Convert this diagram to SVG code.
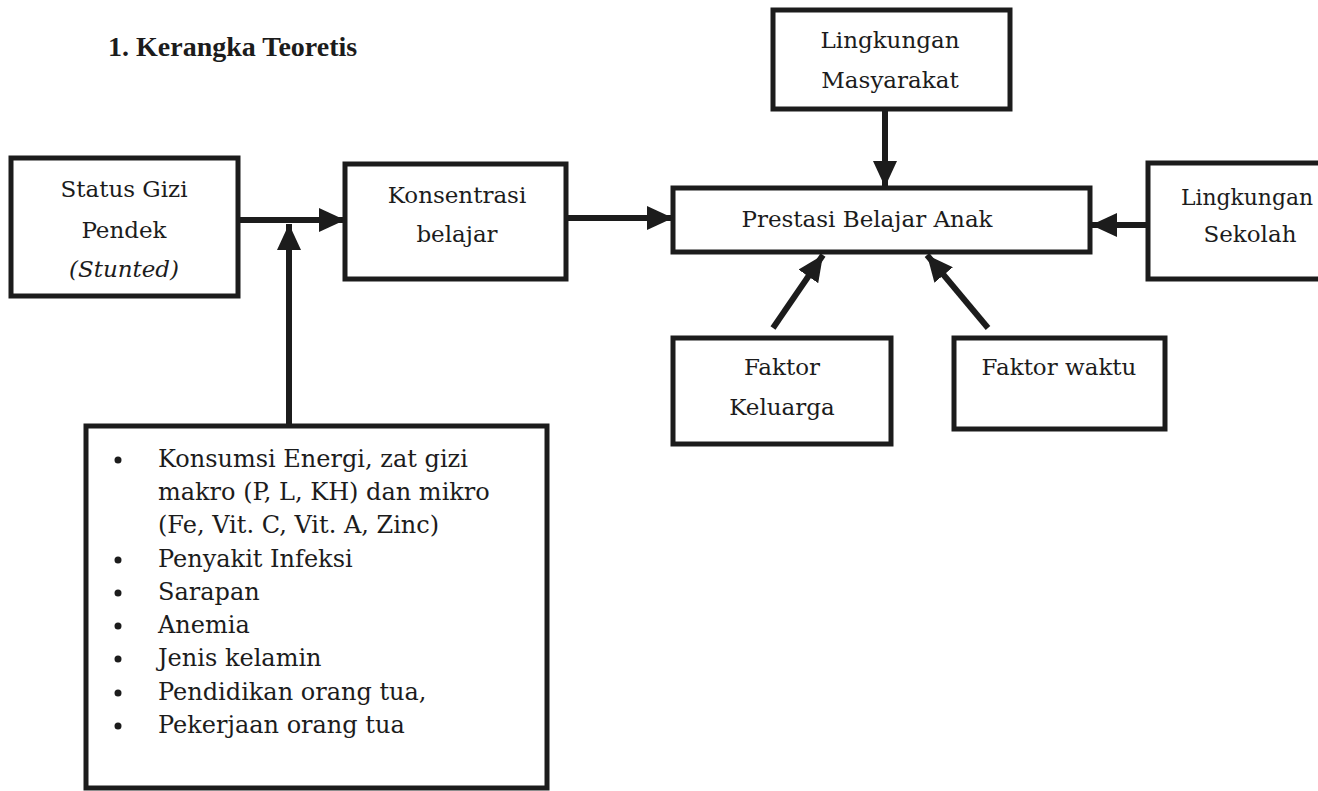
<svg xmlns="http://www.w3.org/2000/svg" width="1318" height="791" viewBox="0 0 1318 791">
<style>
.box{fill:#fff;stroke:#1c1c1c;stroke-width:5}
.t{font-family:"DejaVu Serif",serif;font-size:23px;fill:#1c1c1c;text-anchor:middle}
.l{font-family:"DejaVu Serif",serif;font-size:23px;fill:#1c1c1c}
.li{font-family:"DejaVu Serif",serif;font-size:24px;fill:#1c1c1c}
.c{stroke:#1c1c1c;stroke-width:6;fill:none}
</style>
<defs>
<marker id="ah" markerUnits="userSpaceOnUse" markerWidth="28" markerHeight="24" refX="26" refY="12" orient="auto">
<path d="M0,0 L26,12 L0,24 Z" fill="#1c1c1c"/>
</marker>
</defs>
<rect width="1318" height="791" fill="#fff"/>
<text x="108" y="56" font-family="Liberation Serif,serif" font-size="28" font-weight="bold" fill="#1c1c1c">1.  Kerangka Teoretis</text>

<g id="status">
<rect class="box" x="11" y="158" width="227" height="138"/>
<text class="t" x="124" y="197">Status Gizi</text>
<text class="t" x="124" y="238">Pendek</text>
<text class="t" x="124" y="277" font-style="italic">(Stunted)</text>
</g>
<g id="konsentrasi">
<rect class="box" x="345" y="164" width="221" height="115"/>
<text class="t" x="457" y="203">Konsentrasi</text>
<text class="t" x="457" y="242">belajar</text>
</g>
<g id="prestasi">
<rect class="box" x="673" y="188" width="417" height="64"/>
<text class="t" x="867" y="227">Prestasi Belajar Anak</text>
</g>
<g id="masyarakat">
<rect class="box" x="773" y="10" width="237" height="99"/>
<text class="t" x="890" y="48">Lingkungan</text>
<text class="t" x="890" y="88">Masyarakat</text>
</g>
<g id="sekolah">
<path class="box" d="M1320,163 L1148,163 L1148,279 L1320,279"/>
<text class="l" x="1181" y="205" textLength="132" lengthAdjust="spacingAndGlyphs">Lingkungan</text>
<text class="t" x="1250" y="242">Sekolah</text>
</g>
<g id="keluarga">
<rect class="box" x="673" y="338" width="218" height="106"/>
<text class="t" x="782" y="375">Faktor</text>
<text class="t" x="782" y="415">Keluarga</text>
</g>
<g id="waktu">
<rect class="box" x="954" y="338" width="211" height="91"/>
<text class="t" x="1059" y="375">Faktor waktu</text>
</g>
<g id="faktor-list">
<rect class="box" x="86" y="426" width="461" height="362"/>
<g fill="#1c1c1c">
<circle cx="118" cy="460" r="3.5"/>
<circle cx="118" cy="560" r="3.5"/>
<circle cx="118" cy="593" r="3.5"/>
<circle cx="118" cy="626" r="3.5"/>
<circle cx="118" cy="659" r="3.5"/>
<circle cx="118" cy="693" r="3.5"/>
<circle cx="118" cy="726" r="3.5"/>
</g>
<text class="li" x="158" y="467">Konsumsi Energi, zat gizi</text>
<text class="li" x="158" y="500">makro (P, L, KH) dan mikro</text>
<text class="li" x="158" y="533">(Fe, Vit. C, Vit. A, Zinc)</text>
<text class="li" x="158" y="567">Penyakit Infeksi</text>
<text class="li" x="158" y="600">Sarapan</text>
<text class="li" x="158" y="633">Anemia</text>
<text class="li" x="158" y="666">Jenis kelamin</text>
<text class="li" x="158" y="700">Pendidikan orang tua,</text>
<text class="li" x="158" y="733">Pekerjaan orang tua</text>
</g>
<g id="connectors">
<line class="c" x1="240" y1="220" x2="345" y2="220" marker-end="url(#ah)"/>
<line class="c" x1="289" y1="424" x2="289" y2="224" marker-end="url(#ah)"/>
<line class="c" x1="568" y1="218" x2="673" y2="218" marker-end="url(#ah)"/>
<line class="c" x1="885" y1="111" x2="885" y2="187" marker-end="url(#ah)"/>
<line class="c" x1="1146" y1="225" x2="1091" y2="225" marker-end="url(#ah)"/>
<line class="c" x1="773" y1="328" x2="823" y2="255" marker-end="url(#ah)"/>
<line class="c" x1="988" y1="328" x2="927" y2="255" marker-end="url(#ah)"/>
</g>
</svg>
